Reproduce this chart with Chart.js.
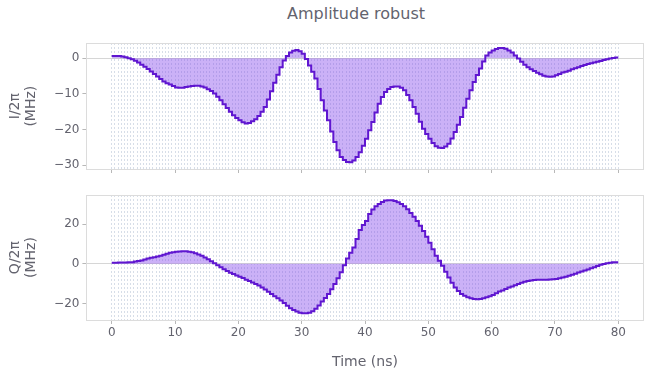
<!DOCTYPE html>
<html>
<head>
<meta charset="utf-8">
<script src="https://cdn.jsdelivr.net/npm/chart.js@4.4.1/dist/chart.umd.min.js"></script>
<style>
  body { margin: 0; width: 650px; height: 376px; background: #fff; position: relative; overflow: hidden; font-family: "DejaVu Sans", sans-serif; }
  #title { position: absolute; top: 4px; left: 356px; transform: translateX(-50%); font-size: 16px; color: #63636e; white-space: nowrap; }
  canvas { position: absolute; left: 0; }
</style>
</head>
<body>
<div id="title">Amplitude robust</div>
<canvas id="iChart" width="650" height="185" style="top:0"></canvas>
<canvas id="qChart" width="650" height="191" style="top:185px"></canvas>
<script>
// piecewise-constant pulse, 160 segments of 0.5 ns over 80 ns
const segmentDuration = 0.5;
const pulseDuration = 80;
const xTickLabels = [0, 10, 20, 30, 40, 50, 60, 70, 80];

// I/2π (MHz), one value per segment
const iValues = [
  0.6, 0.6, 0.6, 0.5, 0.3, 0.0, -0.3, -0.7, -1.2, -1.8,
  -2.4, -3.0, -3.7, -4.4, -5.1, -5.8, -6.5, -7.0, -7.4, -7.8,
  -8.2, -8.3, -8.3, -8.1, -7.9, -7.8, -7.7, -7.7, -7.9, -8.2,
  -8.7, -9.2, -9.9, -10.8, -11.8, -12.9, -14.0, -15.0, -16.0, -16.8,
  -17.4, -18.0, -18.3, -18.2, -17.7, -17.1, -16.2, -15.0, -13.7, -11.6,
  -9.3, -6.9, -4.6, -2.5, -0.6, 0.6, 1.6, 2.1, 2.3, 2.0,
  1.3, -0.2, -2.0, -3.8, -5.7, -8.6, -11.8, -14.7, -17.4, -20.6,
  -23.5, -25.8, -27.7, -28.6, -29.1, -29.2, -28.7, -27.7, -26.4, -24.6,
  -22.6, -20.2, -17.9, -15.2, -12.8, -10.9, -9.5, -8.6, -8.1, -7.9,
  -7.9, -8.3, -9.0, -10.3, -11.8, -13.7, -15.6, -17.8, -19.8, -21.3,
  -22.6, -23.8, -24.7, -25.1, -25.2, -24.8, -24.0, -22.5, -20.7, -18.7,
  -16.5, -13.9, -11.4, -9.0, -6.7, -4.7, -2.9, -0.9, 0.8, 1.6,
  2.2, 2.6, 2.9, 2.9, 2.7, 2.2, 1.6, 0.8, -0.1, -1.0,
  -1.8, -2.5, -3.1, -3.6, -4.1, -4.5, -4.9, -5.1, -5.2, -5.1,
  -4.8, -4.4, -4.0, -3.8, -3.5, -3.1, -2.8, -2.5, -2.2, -1.9,
  -1.6, -1.4, -1.2, -1.0, -0.8, -0.5, -0.3, -0.1, 0.1, 0.2
];

// Q/2π (MHz), one value per segment
const qValues = [
  0.5, 0.5, 0.6, 0.6, 0.6, 0.7, 0.8, 1.1, 1.4, 1.7,
  2.1, 2.6, 3.0, 3.3, 3.6, 4.0, 4.5, 5.0, 5.5, 5.8,
  6.1, 6.2, 6.3, 6.3, 6.1, 5.8, 5.3, 4.7, 4.0, 3.2,
  2.3, 1.3, 0.3, -0.7, -1.7, -2.7, -3.7, -4.5, -5.2, -5.9,
  -6.5, -7.2, -8.0, -8.7, -9.4, -10.2, -11.0, -12.0, -13.0, -14.1,
  -15.2, -16.3, -17.4, -18.5, -19.7, -21.1, -22.4, -23.3, -24.0, -24.6,
  -24.9, -24.9, -24.7, -23.9, -22.7, -21.0, -19.0, -17.2, -15.2, -12.8,
  -10.2, -7.3, -4.3, -0.8, 2.7, 5.5, 8.2, 12.5, 17.0, 19.5,
  21.5, 25.0, 27.3, 28.9, 30.1, 31.1, 31.8, 32.0, 32.0, 31.6,
  31.0, 30.1, 29.0, 27.4, 25.6, 23.6, 21.5, 19.1, 16.5, 13.6,
  10.6, 7.3, 4.0, 1.5, -1.0, -4.0, -6.9, -9.5, -11.9, -13.7,
  -15.2, -16.1, -16.9, -17.4, -17.7, -17.8, -17.7, -17.3, -16.9, -16.3,
  -15.7, -14.8, -14.0, -13.4, -12.7, -12.0, -11.4, -10.8, -10.2, -9.6,
  -9.0, -8.7, -8.4, -8.2, -8.0, -8.0, -8.0, -8.0, -7.9, -7.8,
  -7.7, -7.3, -6.9, -6.5, -6.0, -5.5, -5.0, -4.4, -3.9, -3.4,
  -2.9, -2.3, -1.7, -1.1, -0.5, -0.1, 0.2, 0.5, 0.8, 0.7
];

const iTicks = [0, -10, -20, -30];
const qTicks = [20, 0, -20];

const TEXT = '#63636e';
const LINE = '#5f16d0';
const FILL = 'rgba(130, 70, 235, 0.42)';
const DASH = 'rgba(175, 190, 210, 0.5)';
const NONE = 'rgba(0,0,0,0)';

function stepPoints(values) {
  const pts = values.map((v, k) => ({ x: k * segmentDuration, y: v }));
  pts.push({ x: pulseDuration, y: values[values.length - 1] });
  return pts;
}

const frame = {
  id: 'frame',
  afterDatasetsDraw(chart) {
    const a = chart.chartArea;
    const ctx = chart.ctx;
    ctx.save();
    ctx.strokeStyle = '#dcdcdc';
    ctx.lineWidth = 1;
    ctx.strokeRect(Math.round(a.left) + 0.5, Math.round(a.top) + 0.5,
      Math.round(a.right - a.left), Math.round(a.bottom - a.top));
    ctx.restore();
  }
};

function makePanel(id, values, yTicks, yMin, yMax, yTitle, cfg) {
  return new Chart(document.getElementById(id), {
    type: 'line',
    data: {
      datasets: [{
        data: stepPoints(values),
        stepped: true,
        borderColor: LINE,
        borderWidth: 2,
        backgroundColor: FILL,
        fill: 'origin',
        pointRadius: 0,
        xAxisID: 'x',
        yAxisID: 'y'
      }]
    },
    options: {
      responsive: false,
      animation: false,
      layout: { padding: { top: cfg.top, right: 6.4, left: 0, bottom: 0 } },
      plugins: { legend: { display: false }, tooltip: { enabled: false } },
      scales: {
        x: {
          type: 'linear', position: 'bottom',
          min: -4, max: 84,
          afterFit: s => { s.height = cfg.axisHeight; },
          afterBuildTicks: s => { s.ticks = xTickLabels.map(v => ({ value: v })); },
          ticks: {
            display: cfg.labels, color: TEXT, padding: 2,
            font: { family: 'DejaVu Sans', size: 12 }
          },
          grid: { drawOnChartArea: false, tickLength: 4, tickColor: '#b8b8b8', color: NONE },
          border: { display: false },
          title: {
            display: cfg.labels, text: 'Time (ns)', color: TEXT,
            font: { family: 'DejaVu Sans', size: 14 },
            padding: { top: 0, bottom: 5.6 }
          }
        },
        xg: {
          type: 'linear', position: 'top',
          min: -4, max: 84,
          afterFit: s => { s.height = 0; },
          ticks: { display: false, stepSize: segmentDuration, autoSkip: false, includeBounds: false },
          grid: {
            drawTicks: false, lineWidth: 1,
            color: c => (c.tick && c.tick.value >= 0 && c.tick.value <= pulseDuration) ? DASH : NONE
          },
          border: { display: false, dash: [2, 2] }
        },
        y: {
          min: yMin, max: yMax,
          afterFit: s => { s.width = 86.4; },
          afterBuildTicks: s => { s.ticks = yTicks.map(v => ({ value: v })); },
          ticks: {
            color: TEXT, padding: 3,
            font: { family: 'DejaVu Sans', size: 12 },
            callback: v => String(v).replace('-', '\u2212')
          },
          grid: {
            tickLength: 4, tickColor: '#b8b8b8', lineWidth: 1,
            color: c => (c.tick && c.tick.value === 0) ? '#d6d6d6' : NONE
          },
          border: { display: false },
          title: {
            display: true, text: yTitle, color: TEXT,
            font: { family: 'DejaVu Sans', size: 14 },
            padding: { top: 6.6, bottom: 0 }
          }
        }
      }
    },
    plugins: [frame]
  });
}

makePanel('iChart', iValues, iTicks, -31.1, 4.2, ['I/2π', '(MHz)'],
  { top: 43.3, axisHeight: 16, labels: false });
makePanel('qChart', qValues, qTicks, -28.3, 34.5, ['Q/2π', '(MHz)'],
  { top: 9.3, axisHeight: 56, labels: true });
</script>
</body>
</html>
